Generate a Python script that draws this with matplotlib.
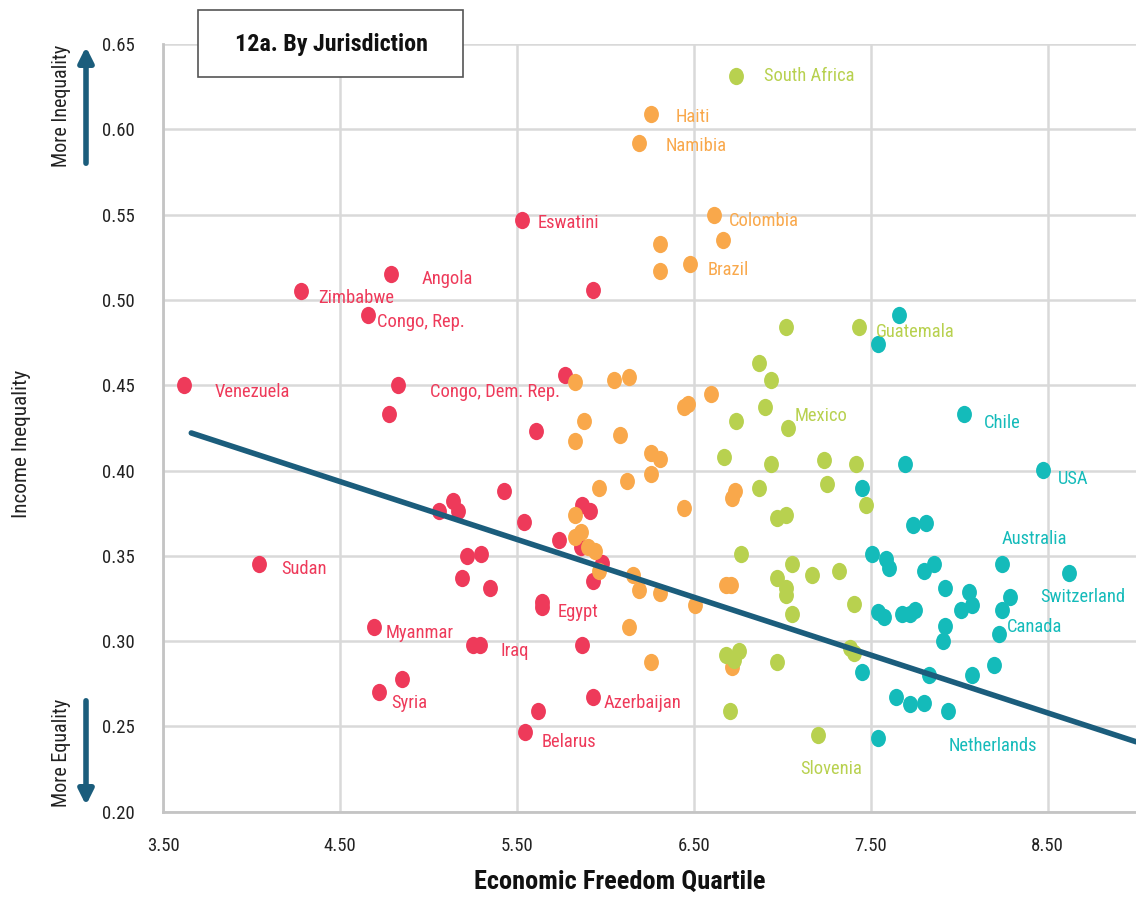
import numpy as np
import matplotlib
matplotlib.use("Agg")
import matplotlib.pyplot as plt
from matplotlib import font_manager
from matplotlib.path import Path
from matplotlib.patches import Rectangle, FancyArrowPatch

# ---- data (economic freedom score, income inequality) ----
q1_x = [3.62, 4.04, 4.28, 4.79, 4.66, 4.83, 4.78, 4.69, 4.72, 4.85, 5.53, 5.93, 5.77,
        5.61, 5.43, 5.14, 5.06, 5.17, 5.54, 5.74, 5.87, 5.915, 5.86, 5.98, 5.93, 5.22,
        5.30, 5.19, 5.35, 5.64, 5.64, 5.25, 5.29, 5.87, 5.93, 5.62, 5.545]
q1_y = [0.450, 0.345, 0.505, 0.515, 0.491, 0.450, 0.433, 0.308, 0.270, 0.278, 0.547, 0.506, 0.456,
        0.423, 0.388, 0.382, 0.376, 0.376, 0.370, 0.359, 0.380, 0.376, 0.355, 0.346, 0.335, 0.350,
        0.351, 0.337, 0.331, 0.323, 0.320, 0.298, 0.298, 0.298, 0.267, 0.259, 0.247]

q2_x = [6.258, 6.19, 6.617, 6.668, 6.309, 6.309, 6.48, 5.83, 6.05, 6.135, 6.60, 6.446, 6.465,
        5.88, 5.83, 6.085, 6.258, 6.309, 6.258, 6.12, 5.966, 6.446, 6.734, 6.718, 5.83, 5.86,
        5.83, 5.90, 5.94, 5.966, 6.154, 6.19, 6.309, 6.51, 6.68, 6.71, 6.135, 6.258, 6.715]
q2_y = [0.609, 0.592, 0.550, 0.535, 0.533, 0.517, 0.521, 0.452, 0.453, 0.455, 0.445, 0.437, 0.439,
        0.429, 0.417, 0.421, 0.410, 0.407, 0.398, 0.394, 0.390, 0.378, 0.388, 0.384, 0.374, 0.364,
        0.361, 0.355, 0.353, 0.341, 0.339, 0.330, 0.328, 0.321, 0.333, 0.333, 0.308, 0.288, 0.285]

q3_x = [6.738, 7.02, 7.437, 6.869, 6.935, 6.903, 6.737, 7.035, 6.672, 6.935, 7.236, 7.418, 6.869,
        7.255, 7.471, 6.968, 7.02, 6.77, 7.053, 6.968, 7.17, 7.32, 7.02, 7.02, 7.405, 7.053,
        6.68, 6.756, 6.728, 6.969, 7.386, 7.405, 6.704, 7.202]
q3_y = [0.631, 0.484, 0.484, 0.463, 0.453, 0.437, 0.429, 0.425, 0.408, 0.404, 0.406, 0.404, 0.390,
        0.392, 0.380, 0.372, 0.374, 0.351, 0.345, 0.337, 0.339, 0.341, 0.331, 0.327, 0.322, 0.316,
        0.292, 0.294, 0.289, 0.288, 0.296, 0.293, 0.259, 0.245]

q4_x = [7.663, 7.54, 8.03, 7.693, 8.472, 7.449, 7.738, 7.813, 7.51, 7.588, 7.603, 7.80, 7.86,
        8.242, 8.622, 7.92, 8.058, 8.073, 8.013, 8.285, 8.242, 7.54, 7.574, 7.678, 7.725, 7.753,
        7.92, 7.907, 8.225, 7.449, 7.829, 8.073, 8.195, 7.646, 7.725, 7.80, 7.937, 7.54]
q4_y = [0.491, 0.474, 0.433, 0.404, 0.400, 0.390, 0.368, 0.369, 0.351, 0.348, 0.343, 0.341, 0.345,
        0.345, 0.340, 0.331, 0.329, 0.321, 0.318, 0.326, 0.318, 0.317, 0.314, 0.316, 0.316, 0.318,
        0.309, 0.300, 0.304, 0.282, 0.280, 0.280, 0.286, 0.267, 0.263, 0.264, 0.259, 0.243]

trend_x = [3.66, 9.0]
trend_y = [0.422, 0.241]

labels = [
    # name, quartile group, text x, text y
    ("Venezuela", 0, 3.79, 0.446), ("Congo, Dem. Rep.", 0, 5.01, 0.446),
    ("Sudan", 0, 4.17, 0.342), ("Zimbabwe", 0, 4.38, 0.501),
    ("Congo, Rep.", 0, 4.71, 0.487), ("Angola", 0, 4.96, 0.512),
    ("Eswatini", 0, 5.62, 0.545), ("Myanmar", 0, 4.76, 0.305),
    ("Iraq", 0, 5.41, 0.294), ("Egypt", 0, 5.73, 0.317),
    ("Syria", 0, 4.79, 0.264), ("Azerbaijan", 0, 5.99, 0.264),
    ("Belarus", 0, 5.64, 0.241),
    ("Haiti", 1, 6.40, 0.607), ("Namibia", 1, 6.34, 0.590),
    ("Colombia", 1, 6.70, 0.546), ("Brazil", 1, 6.58, 0.5175),
    ("South Africa", 2, 6.90, 0.631), ("Guatemala", 2, 7.53, 0.481),
    ("Mexico", 2, 7.07, 0.432), ("Slovenia", 2, 7.10, 0.225),
    ("Chile", 3, 8.14, 0.428), ("USA", 3, 8.56, 0.395),
    ("Australia", 3, 8.24, 0.360), ("Switzerland", 3, 8.46, 0.326),
    ("Canada", 3, 8.27, 0.308), ("Netherlands", 3, 7.94, 0.2385),
]

colors = ["#EE3A5A", "#F9A84B", "#B8D14F", "#14BBBA"]
line_color = "#1B5D7C"

names = {f.name for f in font_manager.fontManager.ttflist}
font = "Roboto"
for cand in ["Roboto Condensed", "Liberation Sans Narrow"]:
    if cand in names:
        font = cand
        break
plt.rcParams["font.family"] = [font, "DejaVu Sans"]

fig = plt.figure(figsize=(11.36, 8.97), dpi=100)
ax = fig.add_axes([163 / 1136, 1 - 811.7 / 897, 1 - 163 / 1136, (811.7 - 44) / 897])

circ = Path.unit_circle()
ell = Path(circ.vertices * [0.86, 1.0], circ.codes)

groups = [(q1_x, q1_y), (q2_x, q2_y), (q3_x, q3_y), (q4_x, q4_y)]
for (gx, gy), c in zip(groups, colors):
    ax.scatter(gx, gy, s=155, marker=ell, color=c, linewidths=0, zorder=3)

ax.plot(trend_x, trend_y, color=line_color, lw=4, solid_capstyle="round", zorder=4)

for name, g, tx, ty in labels:
    ax.text(tx, ty, name, color=colors[g], fontsize=13.3, va="center", ha="left", zorder=5)

ax.set_xlim(3.5, 9.0)
ax.set_ylim(0.20, 0.65)
ax.set_xticks([3.5, 4.5, 5.5, 6.5, 7.5, 8.5])
ax.set_xticklabels(["3.50", "4.50", "5.50", "6.50", "7.50", "8.50"])
ax.set_yticks(np.arange(0.20, 0.651, 0.05))
ax.set_yticklabels([f"{v:.2f}" for v in np.arange(0.20, 0.651, 0.05)])
ax.tick_params(length=0, labelsize=13.5, colors="#222222")
ax.tick_params(axis="x", pad=18)
ax.tick_params(axis="y", pad=20)
ax.grid(True, color="#d9d9d9", lw=1.8)
ax.set_axisbelow(True)
for s in ["top", "right"]:
    ax.spines[s].set_visible(False)
for s in ["left", "bottom"]:
    ax.spines[s].set_color("#c4c4c4")
    ax.spines[s].set_linewidth(2)

# axis titles
fig.text(22 / 1136, 1 - 444 / 897, "Income Inequality", rotation=90, fontsize=15.3,
         ha="center", va="center", color="#222222")
fig.text(620 / 1136, 1 - 882 / 897, "Economic Freedom Quartile", fontsize=19,
         fontweight="bold", ha="center", va="center", color="#111111")

# direction hints
fig.text(62 / 1136, 1 - 106 / 897, "More Inequality", rotation=90, fontsize=14.5,
         ha="center", va="center", color="#222222")
fig.text(62 / 1136, 1 - 753 / 897, "More Equality", rotation=90, fontsize=14.5,
         ha="center", va="center", color="#222222")
fig.patches.append(FancyArrowPatch(
    (86 / 1136, 1 - 166 / 897), (86 / 1136, 1 - 44 / 897), transform=fig.transFigure,
    arrowstyle="-|>", mutation_scale=22, lw=4, color=line_color))
fig.patches.append(FancyArrowPatch(
    (86 / 1136, 1 - 698 / 897), (86 / 1136, 1 - 808 / 897), transform=fig.transFigure,
    arrowstyle="-|>", mutation_scale=22, lw=4, color=line_color))

# title box
fig.patches.append(Rectangle((198 / 1136, 1 - 77 / 897), 265 / 1136, 67 / 897,
                             transform=fig.transFigure, facecolor="white",
                             edgecolor="#555555", lw=1.2, zorder=10))
fig.text(331 / 1136, 1 - 44 / 897, "12a. By Jurisdiction", fontsize=17.3, fontweight="bold",
         ha="center", va="center", color="#111111", zorder=11)

fig.savefig("out.png", dpi=100)
